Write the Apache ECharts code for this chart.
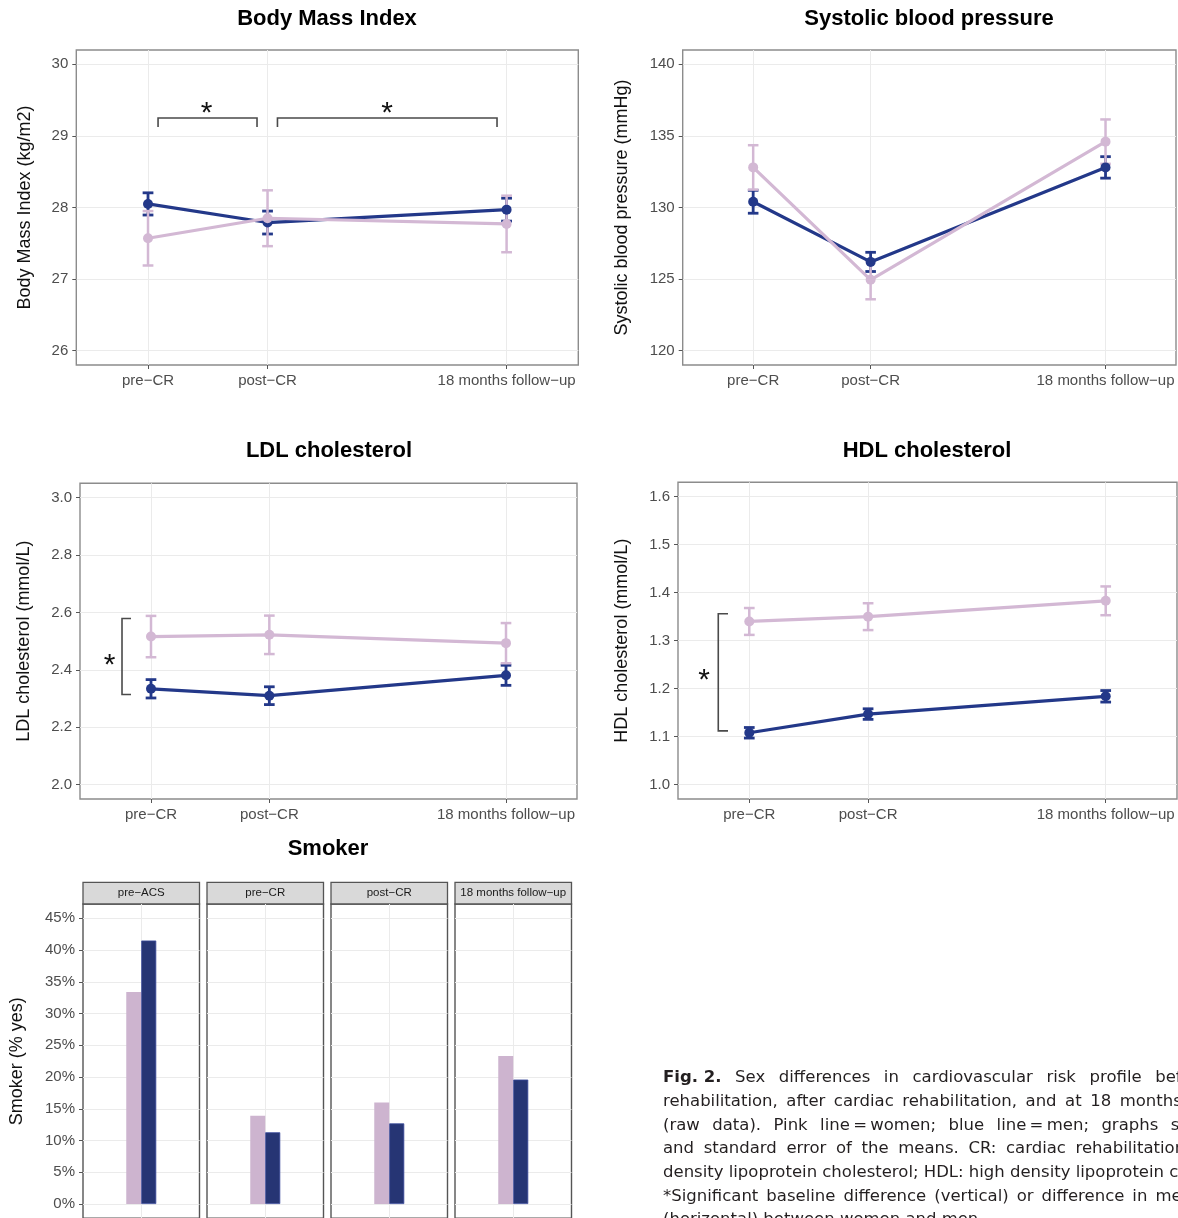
<!DOCTYPE html>
<html><head><meta charset="utf-8">
<script src="https://cdn.jsdelivr.net/npm/echarts@6/dist/echarts.min.js"></script>
<style>html,body{margin:0;padding:0;background:#fff;overflow:hidden}#c{width:1178px;height:1218px}</style>
</head><body><div id="c"></div>
<script>
// ---------- DATA ----------
const timeLabels = ['pre\u2212CR', 'post\u2212CR', '18 months follow\u2212up'];
const timeX = [0, 1, 3];

const bmiMen = [28.05, 27.79, 27.97];
const bmiMenSE = [0.155, 0.16, 0.16];
const bmiWomen = [27.57, 27.85, 27.77];
const bmiWomenSE = [0.38, 0.39, 0.395];
const bmiTicks = [26, 27, 28, 29, 30];

const sbpMen = [130.4, 126.2, 132.8];
const sbpMenSE = [0.8, 0.67, 0.75];
const sbpWomen = [132.8, 124.95, 134.6];
const sbpWomenSE = [1.55, 1.36, 1.55];
const sbpTicks = [120, 125, 130, 135, 140];

const ldlMen = [2.334, 2.31, 2.381];
const ldlMenSE = [0.032, 0.031, 0.035];
const ldlWomen = [2.516, 2.522, 2.493];
const ldlWomenSE = [0.072, 0.067, 0.07];
const ldlTicks = [2.0, 2.2, 2.4, 2.6, 2.8, 3.0];

const hdlMen = [1.108, 1.147, 1.184];
const hdlMenSE = [0.011, 0.011, 0.012];
const hdlWomen = [1.34, 1.35, 1.383];
const hdlWomenSE = [0.028, 0.028, 0.03];
const hdlTicks = [1.0, 1.1, 1.2, 1.3, 1.4, 1.5, 1.6];

const smokerTimes = ['pre\u2212ACS', 'pre\u2212CR', 'post\u2212CR', '18 months follow\u2212up'];
const smokerWomen = [33.4, 13.9, 16.0, 23.3];
const smokerMen = [41.5, 11.3, 12.7, 19.6];
const smokerTicks = [0, 5, 10, 15, 20, 25, 30, 35, 40, 45];

// significance brackets: horizontal [x1, x2, y, yTip]; vertical [x, y1, y2, xTip]
const bmiBrackets = [[0.084, 0.912, 29.25, 29.125], [1.083, 2.92, 29.25, 29.125]];
const bmiStars = [[0.49, 29.41], [2.0, 29.41]];
const ldlBracket = [[-0.245, 2.579, 2.314, -0.169]];
const ldlStar = [[-0.35, 2.44]];
const hdlBracket = [[-0.261, 1.356, 1.112, -0.179]];
const hdlStar = [[-0.38, 1.232]];

const panelTitles = ['Body Mass Index', 'Systolic blood pressure', 'LDL cholesterol', 'HDL cholesterol', 'Smoker'];
const yTitles = ['Body Mass Index (kg/m2)', 'Systolic blood pressure (mmHg)', 'LDL cholesterol (mmol/L)', 'HDL cholesterol (mmol/L)', 'Smoker (% yes)'];

const captionBold = 'Fig. 2.';
const captionLines = [
  ['Sex', 'differences', 'in', 'cardiovascular', 'risk', 'profile', 'before'],
  ['rehabilitation,', 'after', 'cardiac', 'rehabilitation,', 'and', 'at', '18', 'months'],
  ['(raw', 'data).', 'Pink', 'line\u2009=\u2009women;', 'blue', 'line\u2009=\u2009men;', 'graphs', 'show'],
  ['and', 'standard', 'error', 'of', 'the', 'means.', 'CR:', 'cardiac', 'rehabilitation;'],
  ['density', 'lipoprotein', 'cholesterol;', 'HDL:', 'high', 'density', 'lipoprotein', 'cholesterol.'],
  ['*Significant', 'baseline', 'difference', '(vertical)', 'or', 'difference', 'in', 'means'],
  ['(horizontal)', 'between', 'women', 'and', 'men.']
];

// ---------- STYLE ----------
const FF = '"Liberation Sans", Arial, Helvetica, sans-serif';
const CF = '"DejaVu Sans", Verdana, sans-serif';
const PINK = '#d3b8d4';
const BLUE = '#233889';
const PINK_BAR = '#cdb4cf';
const BLUE_BAR = '#263574';
const GRIDC = '#ebebeb';
const FRAME = '#8c8c8c';
const LABC = '#4d4d4d';

const linePanels = [
  {left: 76.3, top: 50, width: 502, height: 315, min: 25.8, max: 30.2, ticks: bmiTicks, dec: 0, gap: 42},
  {left: 682.7, top: 50, width: 493.3, height: 315, min: 119, max: 141, ticks: sbpTicks, dec: 0, gap: 52},
  {left: 80, top: 483.3, width: 497, height: 315.7, min: 1.95, max: 3.05, ticks: ldlTicks, dec: 1, gap: 47},
  {left: 678, top: 482.3, width: 499, height: 316.7, min: 0.97, max: 1.63, ticks: hdlTicks, dec: 1, gap: 46.5}
];
const smokerLefts = [83, 207, 331, 455];
const smokerW = 116.5, smokerTop = 904, smokerH = 314.3;

const grids = [], xAxes = [], yAxes = [], series = [];

linePanels.forEach((p, i) => {
  grids.push({left: p.left, top: p.top, width: p.width, height: p.height, show: true,
    borderColor: FRAME, borderWidth: 1.4, backgroundColor: 'transparent', containLabel: false, outerBoundsMode: 'none'});
  xAxes.push({type: 'value', gridIndex: i, min: -0.6, max: 3.6, position: 'bottom',
    axisLine: {show: false, onZero: false},
    axisTick: {show: true, customValues: timeX, length: 4, lineStyle: {color: '#555', width: 1}},
    axisLabel: {show: true, customValues: timeX, margin: 8, color: LABC, fontSize: 15, fontFamily: FF,
      formatter: v => { const k = timeX.indexOf(Math.round(v * 1000) / 1000); return k >= 0 ? timeLabels[k] : ''; }},
    splitLine: {show: true, lineStyle: {color: GRIDC, width: 1}}
  });
  yAxes.push({type: 'value', gridIndex: i, min: p.min, max: p.max, position: 'left',
    name: yTitles[i], nameLocation: 'middle', nameRotate: 90, nameGap: p.gap, nameMoveOverlap: false,
    nameTextStyle: {color: '#111', fontSize: 18, fontFamily: FF},
    axisLine: {show: false, onZero: false},
    axisTick: {show: true, customValues: p.ticks, length: 4, lineStyle: {color: '#555', width: 1}},
    axisLabel: {show: true, customValues: p.ticks, margin: 8, color: LABC, fontSize: 15, fontFamily: FF,
      formatter: v => Number(v).toFixed(p.dec)},
    splitLine: {show: true, lineStyle: {color: GRIDC, width: 1}}
  });
});

// smoker facets
smokerLefts.forEach((l, k) => {
  grids.push({left: l, top: smokerTop, width: smokerW, height: smokerH, show: true,
    borderColor: '#555', borderWidth: 1.4, backgroundColor: 'transparent', containLabel: false, outerBoundsMode: 'none'});
});
smokerLefts.forEach((l, k) => {
  xAxes.push({type: 'category', gridIndex: 4 + k, data: [smokerTimes[k]], boundaryGap: true, position: 'bottom',
    axisLine: {show: false, onZero: false}, axisTick: {show: false}, axisLabel: {show: false}, splitLine: {show: false}});
});
smokerLefts.forEach((l, k) => {
  xAxes.push({type: 'value', gridIndex: 4 + k, min: -1, max: 1, position: 'bottom',
    axisLine: {show: false, onZero: false}, axisTick: {show: false, customValues: [0]}, axisLabel: {show: false, customValues: [0]},
    splitLine: {show: true, lineStyle: {color: GRIDC, width: 1}}});
});
smokerLefts.forEach((l, k) => {
  yAxes.push({type: 'value', gridIndex: 4 + k, min: -2.25, max: 47.25, position: 'left',
    name: k === 0 ? yTitles[4] : '', nameLocation: 'middle', nameRotate: 90, nameGap: 57, nameMoveOverlap: false,
    nameTextStyle: {color: '#111', fontSize: 18, fontFamily: FF},
    axisLine: {show: false, onZero: false},
    axisTick: {show: k === 0, customValues: smokerTicks, length: 4, lineStyle: {color: '#555', width: 1}},
    axisLabel: {show: k === 0, customValues: smokerTicks, margin: 8, color: LABC, fontSize: 15, fontFamily: FF,
      formatter: v => Math.round(v) + '%'},
    splitLine: {show: true, lineStyle: {color: GRIDC, width: 1}}
  });
});

// error-bar custom series
function errSeries(idx, means, ses, color, lw) {
  return {type: 'custom', xAxisIndex: idx, yAxisIndex: idx, silent: true,
    data: means.map((m, j) => [timeX[j], m - ses[j], m + ses[j]]),
    encode: {x: 0, y: [1, 2]},
    renderItem: (params, api) => {
      const x = api.value(0), lo = api.value(1), hi = api.value(2), w = 0.045;
      const a = api.coord([x, hi]), b = api.coord([x, lo]);
      const l1 = api.coord([x - w, hi]), r1 = api.coord([x + w, hi]);
      const l2 = api.coord([x - w, lo]), r2 = api.coord([x + w, lo]);
      const st = {stroke: color, lineWidth: lw, fill: null};
      return {type: 'group', children: [
        {type: 'line', shape: {x1: a[0], y1: a[1], x2: b[0], y2: b[1]}, style: st},
        {type: 'line', shape: {x1: l1[0], y1: l1[1], x2: r1[0], y2: r1[1]}, style: st},
        {type: 'line', shape: {x1: l2[0], y1: l2[1], x2: r2[0], y2: r2[1]}, style: st}
      ]};
    }};
}
function lineSeries(idx, means, color, name) {
  return {type: 'line', name, xAxisIndex: idx, yAxisIndex: idx, silent: true,
    data: means.map((m, j) => [timeX[j], m]),
    symbol: 'circle', symbolSize: 10, showSymbol: true,
    lineStyle: {color, width: 3.2}, itemStyle: {color}, emphasis: {disabled: true}, animation: false};
}
const sets = [
  [bmiMen, bmiMenSE, bmiWomen, bmiWomenSE],
  [sbpMen, sbpMenSE, sbpWomen, sbpWomenSE],
  [ldlMen, ldlMenSE, ldlWomen, ldlWomenSE],
  [hdlMen, hdlMenSE, hdlWomen, hdlWomenSE]
];
sets.forEach((s, i) => {
  series.push(lineSeries(i, s[0], BLUE, 'men'));
  series.push(errSeries(i, s[0], s[1], BLUE, 2.8));
  series.push(lineSeries(i, s[2], PINK, 'women'));
  series.push(errSeries(i, s[2], s[3], PINK, 2.5));
});

// brackets and stars
const BRC = '#4a4a4a';
function hBracketSeries(idx, data) {
  return {type: 'custom', xAxisIndex: idx, yAxisIndex: idx, silent: true, data,
    renderItem: (params, api) => {
      const x1 = api.value(0), x2 = api.value(1), y = api.value(2), yt = api.value(3);
      const pts = [api.coord([x1, yt]), api.coord([x1, y]), api.coord([x2, y]), api.coord([x2, yt])];
      return {type: 'polyline', shape: {points: pts}, style: {stroke: BRC, lineWidth: 1.6, fill: null}};
    }};
}
function vBracketSeries(idx, data) {
  return {type: 'custom', xAxisIndex: idx, yAxisIndex: idx, silent: true, data,
    renderItem: (params, api) => {
      const x = api.value(0), y1 = api.value(1), y2 = api.value(2), xt = api.value(3);
      const pts = [api.coord([xt, y1]), api.coord([x, y1]), api.coord([x, y2]), api.coord([xt, y2])];
      return {type: 'polyline', shape: {points: pts}, style: {stroke: BRC, lineWidth: 1.6, fill: null}};
    }};
}
function starSeries(idx, data) {
  return {type: 'custom', xAxisIndex: idx, yAxisIndex: idx, silent: true, data,
    renderItem: (params, api) => {
      const c = api.coord([api.value(0), api.value(1)]);
      return {type: 'text', x: c[0], y: c[1] + 7,
        style: {text: '*', font: '30px ' + FF, fill: '#111', align: 'center', verticalAlign: 'middle',
          textAlign: 'center', textVerticalAlign: 'middle'}};
    }};
}
series.push(hBracketSeries(0, bmiBrackets), starSeries(0, bmiStars));
series.push(vBracketSeries(2, ldlBracket), starSeries(2, ldlStar));
series.push(vBracketSeries(3, hdlBracket), starSeries(3, hdlStar));

// smoker bars
smokerLefts.forEach((l, k) => {
  series.push({type: 'bar', xAxisIndex: 4 + k, yAxisIndex: 4 + k, data: [smokerWomen[k]], barWidth: 15, barGap: '0%',
    itemStyle: {color: PINK_BAR}, silent: true, animation: false});
  series.push({type: 'bar', xAxisIndex: 4 + k, yAxisIndex: 4 + k, data: [smokerMen[k]], barWidth: 15, barGap: '0%',
    itemStyle: {color: BLUE_BAR, borderColor: '#3b4b9c', borderWidth: 0.8}, silent: true, animation: false});
});

// graphics: titles, strips, caption
const graphics = [];
const titlePos = [[327, 19], [929, 19], [329, 450.5], [927, 450.5], [328, 849]];
panelTitles.forEach((t, i) => {
  graphics.push({type: 'text', x: titlePos[i][0], y: titlePos[i][1], silent: true,
    style: {text: t, font: 'bold 22px ' + FF, fill: '#000', align: 'center', verticalAlign: 'middle',
      textAlign: 'center', textVerticalAlign: 'middle'}});
});
smokerLefts.forEach((l, k) => {
  graphics.push({type: 'rect', silent: true, shape: {x: l, y: 882.3, width: smokerW, height: 21.7},
    style: {fill: '#d9d9d9', stroke: '#555', lineWidth: 1.3}});
  graphics.push({type: 'text', x: l + smokerW / 2, y: 893.3, silent: true,
    style: {text: smokerTimes[k], font: '11.5px ' + FF, fill: '#1a1a1a', align: 'center', verticalAlign: 'middle',
      textAlign: 'center', textVerticalAlign: 'middle'}});
});

const mctx = document.createElement('canvas').getContext('2d');
const capSize = 16.5;
const capGaps = [13.6, 8.5, 12.4, 9.6, 5.2, 8, 5.2];
const capX = 663, capY0 = 1078, capPitch = 23.7;
captionLines.forEach((words, li) => {
  let x = capX;
  const y = capY0 + li * capPitch;
  if (li === 0) {
    const f = 'bold ' + capSize + 'px ' + CF;
    mctx.font = f;
    graphics.push({type: 'text', x, y, silent: true, style: {text: captionBold, font: f, fill: '#231f20',
      verticalAlign: 'middle', textVerticalAlign: 'middle'}});
    x += mctx.measureText(captionBold).width + capGaps[0];
  }
  const f = capSize + 'px ' + CF;
  mctx.font = f;
  words.forEach(w => {
    graphics.push({type: 'text', x, y, silent: true, style: {text: w, font: f, fill: '#231f20',
      verticalAlign: 'middle', textVerticalAlign: 'middle'}});
    x += mctx.measureText(w).width + capGaps[li];
  });
});

const chart = echarts.init(document.getElementById('c'), null, {renderer: 'canvas'});
chart.setOption({
  animation: false,
  backgroundColor: '#fff',
  grid: grids, xAxis: xAxes, yAxis: yAxes, series,
  graphic: graphics
});
</script>
</body></html>
